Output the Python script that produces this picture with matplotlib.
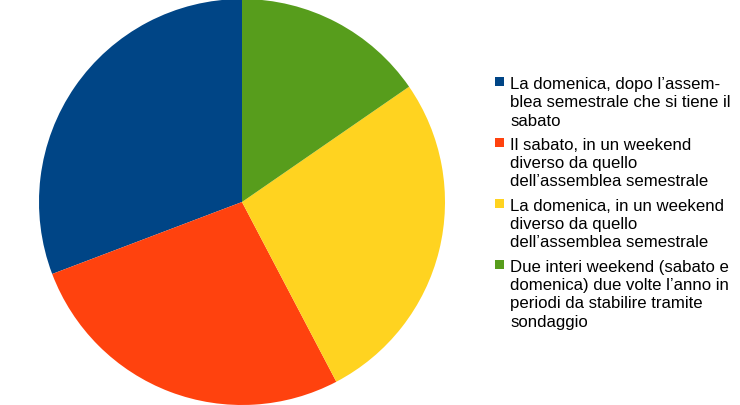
import matplotlib
matplotlib.use("Agg")
import matplotlib.pyplot as plt
from matplotlib.patches import Rectangle

# DATA
LABELS = [
    "La domenica, dopo l’assem-\nblea semestrale che si tiene il\nsabato",
    "Il sabato, in un weekend\ndiverso da quello\ndell’assemblea semestrale",
    "La domenica, in un weekend\ndiverso da quello\ndell’assemblea semestrale",
    "Due interi weekend (sabato e\ndomenica) due volte l’anno in\nperiodi da stabilire tramite\nsondaggio",
]
VALUES = [8, 7, 7, 4]

# COLORS
COLORS = ["#004586", "#ff420e", "#ffd320", "#579d1c"]

W, H = 740, 406
FONT_PT = 12.1
LINE_PX = 18.3
GAP_PX = 6


def main():
    plt.rcParams["font.family"] = ["Liberation Sans", "DejaVu Sans"]
    fig = plt.figure(figsize=(W / 100, H / 100), dpi=100)

    # pie: center (242, 203), radius 203 px
    cx, cy, r = 242, 203, 203
    ax = fig.add_axes([(cx - r) / W, (H - cy - r) / H, 2 * r / W, 2 * r / H])
    ax.pie(VALUES, colors=COLORS, startangle=90, counterclock=True,
           radius=1, wedgeprops=dict(linewidth=0))
    ax.set_xlim(-1, 1)
    ax.set_ylim(-1, 1)
    ax.set_aspect("equal")
    ax.axis("off")

    # legend, drawn by hand so the square sits on the first line
    base = 89
    for label, color in zip(LABELS, COLORS):
        fig.add_artist(Rectangle((495 / W, 1 - (base - 2) / H), 9 / W, 9 / H,
                                 transform=fig.transFigure, color=color,
                                 linewidth=0))
        for line in label.split("\n"):
            fig.text(510 / W, 1 - base / H, line, fontsize=FONT_PT,
                     va="baseline", ha="left", color="black")
            base += LINE_PX
        base += GAP_PX

    fig.savefig("out.png", dpi=100)


if __name__ == "__main__":
    main()
